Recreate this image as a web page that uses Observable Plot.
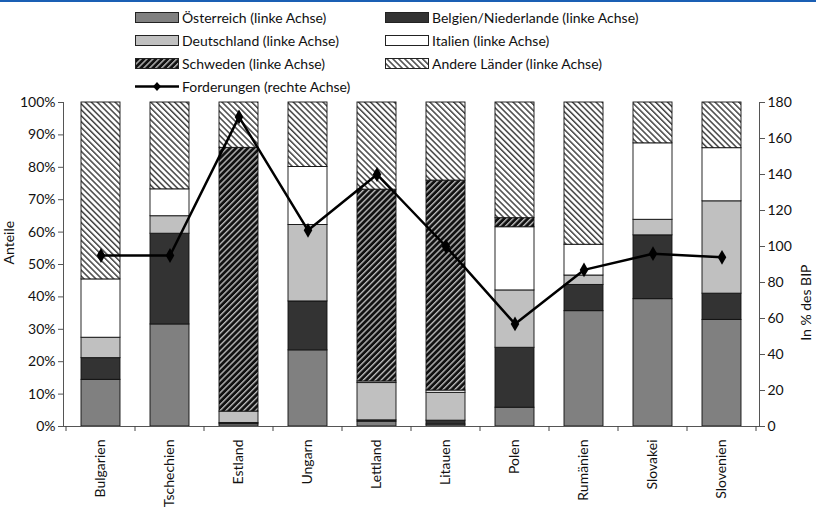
<!DOCTYPE html>
<html><head><meta charset="utf-8">
<script src="https://cdn.jsdelivr.net/npm/d3@7"></script>
<script src="https://cdn.jsdelivr.net/npm/@observablehq/plot@0.6"></script>
<style>
body{margin:0;background:#fff;font-family:Lato,"DejaVu Sans",sans-serif;}
#wrap{width:816px;height:517px;border-top:2px solid #1a5fb4;box-sizing:border-box;position:relative;overflow:hidden}
#legend{position:relative;height:93px}
.item{position:absolute;display:flex;align-items:center;font-size:14px;color:#111;white-space:nowrap;height:16px}
.item svg{margin-right:3px}
#chart svg{display:block;overflow:visible}
</style></head><body>
<svg width="0" height="0" style="position:absolute">
  <defs>
    <pattern id="pSchweden" patternUnits="userSpaceOnUse" width="4.2" height="4.2" patternTransform="rotate(45)">
      <rect width="4.2" height="4.2" fill="#111"/>
      <rect x="0" width="1.4" height="4.2" fill="#b8b8b8"/>
    </pattern>
    <pattern id="pAndere" patternUnits="userSpaceOnUse" width="4.2" height="4.2" patternTransform="rotate(-45)">
      <rect width="4.2" height="4.2" fill="#fff"/>
      <rect x="0" width="1.5" height="4.2" fill="#444"/>
    </pattern>
  </defs>
</svg>
<div id="wrap">
  <div id="legend"></div>
  <div id="chart"></div>
</div>
<script>
const countries = ["Bulgarien","Tschechien","Estland","Ungarn","Lettland","Litauen","Polen","Rumänien","Slovakei","Slovenien"];
const seriesNames = ["Österreich (linke Achse)","Belgien/Niederlande (linke Achse)","Deutschland (linke Achse)","Italien (linke Achse)","Schweden (linke Achse)","Andere Länder (linke Achse)"];
const oesterreich = [14.4, 31.5, 0.7, 23.5, 1.5, 0.6, 5.8, 35.6, 39.3, 32.9];
const belgienNL   = [6.7, 28.0, 0.4, 15.1, 0.4, 1.2, 18.5, 8.1, 19.7, 8.1];
const deutschland = [6.3, 5.4, 3.5, 23.6, 11.5, 8.6, 17.7, 2.9, 4.8, 28.5];
const italien     = [18.0, 8.3, 0.0, 17.9, 0.5, 0.7, 19.5, 9.5, 23.6, 16.4];
const schweden    = [0.0, 0.0, 81.4, 0.0, 59.2, 64.8, 2.8, 0.0, 0.0, 0.0];
const andere      = [54.6, 26.8, 14.0, 19.9, 26.9, 24.1, 35.7, 43.9, 12.6, 14.1];
const forderungen = [95, 95, 172, 109, 140, 100, 57, 87, 96, 94];
const leftTicks = [0,10,20,30,40,50,60,70,80,90,100];
const rightTicks = [0,20,40,60,80,100,120,140,160,180];
const rightMax = 180;
const lineName = "Forderungen (rechte Achse)";

const fills = ["#808080","#333333","#c0c0c0","#ffffff","url(#pSchweden)","url(#pAndere)"];
const seriesValues = [oesterreich, belgienNL, deutschland, italien, schweden, andere];

const table = [];
seriesNames.forEach((s, si) => countries.forEach((c, ci) => table.push({country: c, series: s, value: seriesValues[si][ci]})));
const lineData = countries.map((c, i) => ({country: c, value: forderungen[i]}));

// Legend
const legend = document.getElementById("legend");
const legendPos = [[135,9],[385,9],[135,32],[385,32],[135,55],[385,55],[135,78]];
seriesNames.forEach((s, i) => {
  const d = document.createElement("div");
  d.className = "item";
  d.style.left = legendPos[i][0] + "px"; d.style.top = (legendPos[i][1] - 2) + "px";
  d.innerHTML = `<svg width="44" height="11"><rect x="0.5" y="0.5" width="43" height="10" fill="${fills[i]}" stroke="#222" stroke-width="1"/></svg><span>${s}</span>`;
  legend.appendChild(d);
});
{
  const d = document.createElement("div");
  d.className = "item";
  d.style.left = legendPos[6][0] + "px"; d.style.top = (legendPos[6][1] - 2) + "px";
  d.innerHTML = `<svg width="44" height="11"><line x1="0" x2="44" y1="5.5" y2="5.5" stroke="#000" stroke-width="2.5"/><path d="M22,1 L26,5.5 L22,10 L18,5.5Z" fill="#000"/></svg><span>${lineName}</span>`;
  legend.appendChild(d);
}

const boundaryTicks = (index, scales, values, dims) => {
  const x = scales.x, y = scales.y;
  const bw = typeof x.bandwidth === "function" ? x.bandwidth() : 0;
  const step = typeof x.step === "function" ? x.step() : (x(countries[1]) - x(countries[0]));
  const g = d3.create("svg:g").attr("stroke", "#444").attr("stroke-width", 1);
  const y0 = y(0);
  const start = x(countries[0]) + bw / 2 - step / 2;
  for (let i = 0; i <= countries.length; i++) {
    const px = start + i * step;
    g.append("line").attr("x1", px).attr("x2", px).attr("y1", y0).attr("y2", y0 + 5);
  }
  return g.node();
};

const plot = Plot.plot({
  width: 816,
  height: 422,
  marginLeft: 63,
  marginRight: 57,
  marginTop: 7,
  marginBottom: 91,
  style: {fontFamily: "Lato, 'DejaVu Sans', sans-serif", fontSize: "14px", color: "#111", background: "#fff"},
  x: {domain: countries, paddingInner: 0.44, paddingOuter: 0.22, label: null},
  y: {domain: [0, 100], label: null},
  color: {domain: seriesNames, range: fills},
  marks: [
    Plot.barY(table, Plot.stackY({x: "country", y: "value", fill: "series", stroke: "#111", strokeWidth: 0.9, order: seriesNames})),
    Plot.frame({anchor: "left", stroke: "#555"}),
    Plot.frame({anchor: "right", stroke: "#555"}),
    Plot.ruleY([0], {stroke: "#555"}),
    Plot.axisY(leftTicks, {anchor: "left", tickSize: 5, tickPadding: 3, tickFormat: d => d + "%", label: null, stroke: "#555"}),
    Plot.axisY(rightTicks.map(v => v / rightMax * 100), {anchor: "right", tickSize: 5, tickPadding: 3, tickFormat: d => Math.round(d * rightMax / 100), label: null, stroke: "#555"}),
    Plot.axisX({tickSize: 0, tickPadding: 13, tickRotate: -90, label: null}),
    boundaryTicks,
    Plot.line(lineData, {x: "country", y: d => d.value / rightMax * 100, stroke: "#000", strokeWidth: 2.5}),
    Plot.dot(lineData, {x: "country", y: d => d.value / rightMax * 100, symbol: "diamond", r: 4.5, fill: "#000", stroke: "none"}),
    Plot.text(["Anteile"], {frameAnchor: "left", dx: -54, rotate: -90, fontSize: 14}),
    Plot.text(["In % des BIP"], {frameAnchor: "right", dx: 47, rotate: -90, fontSize: 14})
  ]
});
document.getElementById("chart").appendChild(plot);
</script>
</body></html>
